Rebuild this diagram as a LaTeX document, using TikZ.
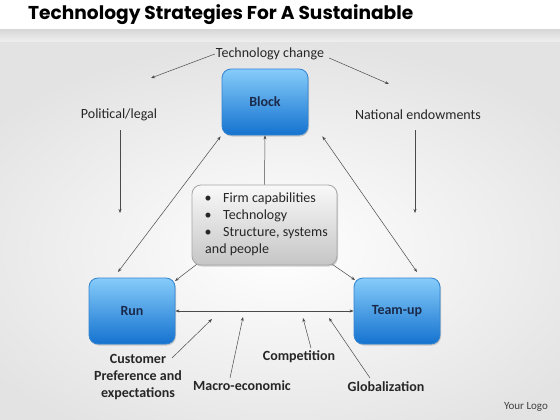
\documentclass[tikz,border=0pt]{standalone}
\usepackage{fontspec}
\setmainfont{Carlito}
\newfontfamily\titlefont{Poppins}
\usetikzlibrary{arrows.meta,shadows}
\definecolor{navy}{HTML}{1B2A4A}
\definecolor{linec}{HTML}{4A4A4A}
\definecolor{bluetop}{HTML}{86CCFA}
\definecolor{bluebot}{HTML}{1472CF}
\definecolor{blueedge}{HTML}{3484D0}
\begin{document}
\begin{tikzpicture}[x=1pt,y=-1pt,
  bluebox/.style={draw=blueedge, line width=0.8pt, rounded corners=9pt, top color=bluetop, bottom color=bluebot,
    minimum width=86pt, minimum height=66pt, font=\fontsize{14}{16}\selectfont\bfseries, text=navy,
    drop shadow={shadow xshift=1pt, shadow yshift=-1.5pt, opacity=0.35}},
  graybox/.style={draw=gray!70, line width=0.8pt, rounded corners=9pt, top color=gray!5, bottom color=gray!45,
    minimum width=145pt, minimum height=80pt,
    drop shadow={shadow xshift=1pt, shadow yshift=-1.5pt, opacity=0.35}},
  lbl/.style={font=\fontsize{14}{16}\selectfont, text=black!85, inner sep=1pt},
  blbl/.style={font=\fontsize{14}{17}\selectfont\bfseries, text=black!85, inner sep=1pt, align=center},
  conn/.style={draw=linec, line width=0.5pt, -{Stealth[length=4pt,width=3pt]}},
  dconn/.style={draw=linec, line width=0.5pt, {Stealth[length=4pt,width=3pt]}-{Stealth[length=4pt,width=3pt]}}
]
\useasboundingbox (0,0) rectangle (560,420);
% background
\fill[white] (0,0) rectangle (560,420);
\shade[inner color=white, outer color=gray!22] (-80,40) rectangle (640,460);
\fill[white] (0,0) rectangle (560,30);
\shade[top color=gray!30, bottom color=gray!12] (0,30) rectangle (560,42);
% title
\node[anchor=west, inner sep=0pt, font=\titlefont\bfseries\fontsize{18.6}{20}\selectfont] (title) at (28,15) {Technology Strategies For A Sustainable};
% boxes
\node[bluebox] (block) at (265,102) {Block};
\node[bluebox] (run) at (132,311) {Run};
\node[bluebox] (team) at (397,311) {Team-up};
\node[graybox] (cen) at (264.5,225) {};
\node[lbl, anchor=west] (b1) at (222,199) {Firm capabilities};
\node[lbl, anchor=west] (b2) at (222,216) {Technology};
\node[lbl, anchor=west] (b3) at (222,233) {Structure, systems};
\node[lbl, anchor=west] (b4) at (204,250) {and people};
\foreach \y/\n in {199/d1,216/d2,233/d3} \node[lbl] (\n) at (208,\y) {\textbullet};
% labels
\node[lbl] (tc) at (270,54) {Technology change};
\node[lbl] (pl) at (119,115) {Political/legal};
\node[lbl] (ne) at (418,115) {National endowments};
\node[blbl] (cust) at (138,377) {Customer\\Preference and\\expectations};
\node[blbl] (macro) at (242,386) {Macro-economic};
\node[blbl] (comp) at (299,357) {Competition};
\node[blbl] (glob) at (386,387) {Globalization};
\node[font=\fontsize{11}{12}\selectfont, text=black!75] (logo) at (526,407) {Your Logo};
% free-end coordinates
\coordinate (tcl) at (151,78);
\coordinate (tcr) at (389,84);
\coordinate (plE) at (120,213);
\coordinate (neE) at (415,213);
\coordinate (custE) at (212,319);
\coordinate (macroE) at (243,317);
\coordinate (compE) at (303,318);
\coordinate (globE) at (329,318);
% connectors
\draw[conn] (tc.west) -- (tcl);
\draw[conn] (tc.east) ++(4,4) coordinate (tcs) (tcs) -- (tcr);
\draw[conn] (120,130) coordinate (pls) (pls) -- (plE);
\draw[conn] (415,130) coordinate (nes) (nes) -- (neE);
\draw[conn] (cen.north) -- (block.south);
\draw[dconn] (block.south west) ++(-1,1) coordinate (bsw) (bsw) -- (118,272) coordinate (rne);
\draw[dconn] (block.south east) ++(14,1) coordinate (bse) (bse) -- (417,272) coordinate (tnw);
\draw[conn] (cen.south west) ++(5,-1) coordinate (csw) (csw) -- (175,281);
\draw[conn] (cen.south east) ++(-5,-1) coordinate (cse) (cse) -- (355,280);
\draw[dconn] (run.east) -- (team.west);
\draw[conn] (172,358) coordinate (cs) (cs) -- (custE);
\draw[conn] (230,378) coordinate (ms) (ms) -- (macroE);
\draw[conn] (311,348) coordinate (cps) (cps) -- (compE);
\draw[conn] (370,378) coordinate (gs) (gs) -- (globE);
\end{tikzpicture}
\end{document}
